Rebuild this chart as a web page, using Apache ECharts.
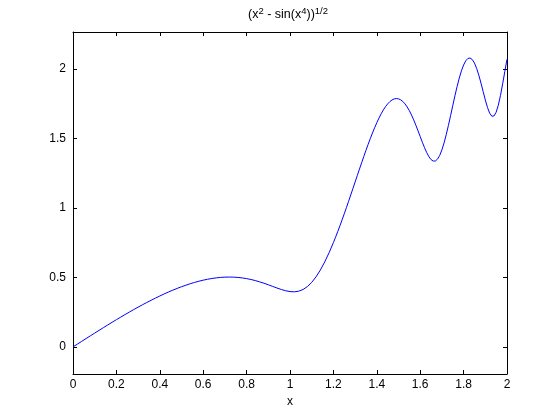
<!DOCTYPE html>
<html>
<head>
<meta charset="utf-8">
<script src="https://cdn.jsdelivr.net/npm/echarts@6/dist/echarts.min.js"></script>
<style>
  html, body { margin: 0; padding: 0; background: #ffffff; }
  #chart { width: 560px; height: 420px; }
</style>
</head>
<body>
<div id="chart"></div>
<script>
// x samples
var xs = [
  0.00, 0.02, 0.04, 0.06, 0.08, 0.10, 0.12, 0.14, 0.16, 0.18,
  0.20, 0.22, 0.24, 0.26, 0.28, 0.30, 0.32, 0.34, 0.36, 0.38,
  0.40, 0.42, 0.44, 0.46, 0.48, 0.50, 0.52, 0.54, 0.56, 0.58,
  0.60, 0.62, 0.64, 0.66, 0.68, 0.70, 0.72, 0.74, 0.76, 0.78,
  0.80, 0.82, 0.84, 0.86, 0.88, 0.90, 0.92, 0.94, 0.96, 0.98,
  1.00, 1.02, 1.04, 1.06, 1.08, 1.10, 1.12, 1.14, 1.16, 1.18,
  1.20, 1.21, 1.22, 1.23, 1.24, 1.25, 1.26, 1.27, 1.28, 1.29,
  1.30, 1.31, 1.32, 1.33, 1.34, 1.35, 1.36, 1.37, 1.38, 1.39,
  1.40, 1.41, 1.42, 1.43, 1.44, 1.45, 1.46, 1.47, 1.48, 1.49,
  1.50, 1.51, 1.52, 1.53, 1.54, 1.55, 1.56, 1.57, 1.58, 1.59,
  1.60, 1.61, 1.62, 1.63, 1.64, 1.65, 1.66, 1.67, 1.68, 1.69,
  1.70, 1.71, 1.72, 1.73, 1.74, 1.75, 1.76, 1.77, 1.78, 1.79,
  1.80, 1.81, 1.82, 1.83, 1.84, 1.85, 1.86, 1.87, 1.88, 1.89,
  1.90, 1.91, 1.92, 1.93, 1.94, 1.95, 1.96, 1.97, 1.98, 1.99,
  2.00
];
// curve values
var ys = [
  0.0000, 0.0200, 0.0400, 0.0599, 0.0797, 0.0995, 0.1191, 0.1386, 0.1579, 0.1771,
  0.1960, 0.2146, 0.2330, 0.2511, 0.2688, 0.2862, 0.3032, 0.3198, 0.3359, 0.3515,
  0.3666, 0.3812, 0.3951, 0.4085, 0.4211, 0.4331, 0.4442, 0.4546, 0.4641, 0.4727,
  0.4804, 0.4870, 0.4926, 0.4970, 0.5002, 0.5022, 0.5029, 0.5022, 0.5001, 0.4966,
  0.4917, 0.4853, 0.4775, 0.4685, 0.4583, 0.4472, 0.4356, 0.4240, 0.4132, 0.4042,
  0.3982, 0.3966, 0.4011, 0.4132, 0.4341, 0.4643, 0.5044, 0.5537, 0.6117, 0.6778,
  0.7508, 0.7898, 0.8301, 0.8717, 0.9144, 0.9582, 1.0028, 1.0482, 1.0940, 1.1403,
  1.1868, 1.2332, 1.2798, 1.3253, 1.3704, 1.4147, 1.4579, 1.4996, 1.5397, 1.5779,
  1.6138, 1.6471, 1.6777, 1.7051, 1.7291, 1.7493, 1.7656, 1.7776, 1.7851, 1.7880,
  1.7859, 1.7788, 1.7667, 1.7495, 1.7273, 1.7005, 1.6693, 1.6343, 1.5961, 1.5557,
  1.5142, 1.4731, 1.4340, 1.3988, 1.3696, 1.3486, 1.3377, 1.3386, 1.3523, 1.3790,
  1.4183, 1.4687, 1.5282, 1.5945, 1.6650, 1.7369, 1.8075, 1.8744, 1.9351, 1.9874,
  2.0294, 2.0596, 2.0766, 2.0796, 2.0685, 2.0435, 2.0055, 1.9567, 1.8997, 1.8384,
  1.7779, 1.7240, 1.6831, 1.6611, 1.6625, 1.6893, 1.7402, 1.8107, 1.8943, 1.9836,
  2.0707
];
var xTicks = [0, 0.2, 0.4, 0.6, 0.8, 1, 1.2, 1.4, 1.6, 1.8, 2];
var yTicks = [0, 0.5, 1, 1.5, 2];
var titleText = '(x{sup|2} - sin(x{sup|4})){sup|1/2}';
var xName = 'x';

var FONT = "'Liberation Sans', Arial, Helvetica, sans-serif";
var pts = xs.map(function (x, i) { return [x, ys[i]]; });

function isTick(list, v) {
  for (var i = 0; i < list.length; i++) { if (Math.abs(list[i] - v) < 1e-6) return true; }
  return false;
}

var chart = echarts.init(document.getElementById('chart'), null, { renderer: 'canvas' });
var axisLineStyle = { color: '#000000', width: 1 };
chart.setOption({
  animation: false,
  backgroundColor: '#ffffff',
  title: {
    text: titleText,
    left: 243,
    top: 3,
    textStyle: {
      fontFamily: FONT, fontSize: 12.5, fontWeight: 'normal', color: '#000000',
      lineHeight: 14,
      rich: {
        sup: { fontFamily: FONT, fontSize: 9.5, color: '#000000', verticalAlign: 'bottom', lineHeight: 10, padding: [0, 0, 6, 0] }
      }
    }
  },
  grid: { left: 73, right: 53, top: 32, bottom: 46, containLabel: false },
  xAxis: [
    {
      type: 'value', position: 'bottom', min: 0, max: 2, interval: 0.2,
      name: xName, nameLocation: 'middle', nameGap: 21,
      nameTextStyle: { fontFamily: FONT, fontSize: 12, color: '#000000' },
      axisLine: { show: true, onZero: false, lineStyle: axisLineStyle },
      axisTick: { show: true, inside: true, length: 4, lineStyle: axisLineStyle },
      axisLabel: {
        fontFamily: FONT, fontSize: 12, color: '#000000', margin: 5,
        formatter: function (v) { return isTick(xTicks, v) ? String(+v.toFixed(1)) : ''; }
      },
      splitLine: { show: false }
    },
    {
      type: 'value', position: 'top', min: 0, max: 2, interval: 0.2,
      axisLine: { show: true, onZero: false, lineStyle: axisLineStyle },
      axisTick: { show: true, inside: true, length: 4, lineStyle: axisLineStyle },
      axisLabel: { show: false },
      splitLine: { show: false }
    }
  ],
  yAxis: [
    {
      type: 'value', position: 'left', min: -0.195, max: 2.267,
      splitNumber: 5, minInterval: 0.5, maxInterval: 0.5,
      axisLine: { show: true, onZero: false, lineStyle: axisLineStyle },
      axisTick: { show: true, inside: true, length: 4, lineStyle: axisLineStyle },
      axisLabel: {
        fontFamily: FONT, fontSize: 12, color: '#000000', margin: 7,
        showMinLabel: false, showMaxLabel: false,
        formatter: function (v) { return isTick(yTicks, v) ? String(+v.toFixed(1)) : ''; }
      },
      splitLine: { show: false }
    },
    {
      type: 'value', position: 'right', min: -0.195, max: 2.267,
      splitNumber: 5, minInterval: 0.5, maxInterval: 0.5,
      axisLine: { show: true, onZero: false, lineStyle: axisLineStyle },
      axisTick: { show: true, inside: true, length: 4, lineStyle: axisLineStyle },
      axisLabel: { show: false },
      splitLine: { show: false }
    }
  ],
  series: [
    {
      type: 'line',
      xAxisIndex: 0, yAxisIndex: 0,
      data: pts,
      showSymbol: false,
      smooth: false,
      lineStyle: { color: '#0000ff', width: 1 },
      itemStyle: { color: '#0000ff' }
    }
  ]
});
</script>
</body>
</html>
